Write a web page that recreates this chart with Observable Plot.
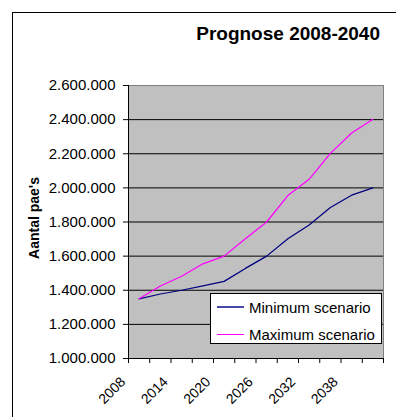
<!DOCTYPE html>
<html>
<head>
<meta charset="utf-8">
<script src="https://cdn.jsdelivr.net/npm/d3@7"></script>
<script src="https://cdn.jsdelivr.net/npm/@observablehq/plot@0.6"></script>
<style>
  html, body { margin: 0; padding: 0; background: white; }
  body { width: 396px; height: 417px; overflow: hidden; position: relative; font-family: "Liberation Sans", Arial, sans-serif; color: black; }
  #border { position: absolute; left: 12px; top: 12px; width: 500px; height: 500px; border-left: 1px solid black; border-top: 1px solid black; }
  #chart { position: absolute; left: 0; top: 0; }
  #title { position: absolute; right: 16px; top: 24px; font-size: 19px; line-height: 19px; font-weight: bold; white-space: nowrap; }
  #ylabel { position: absolute; left: 34px; top: 218px; font-size: 14px; font-weight: bold; white-space: nowrap; transform: translate(-50%, -50%) rotate(-90deg); line-height: 14px; }
  #legend { position: absolute; left: 210px; top: 293px; width: 170px; height: 49px; background: white; border: 1px solid black; }
  .row { position: absolute; left: 0; height: 18px; display: flex; align-items: center; font-size: 15px; white-space: nowrap; }
  .swatch { width: 27px; height: 0; margin-left: 6px; margin-right: 5px; }
</style>
</head>
<body>
<div id="border"></div>
<div id="chart"></div>
<div id="title">Prognose 2008-2040</div>
<div id="ylabel">Aantal pae's</div>
<div id="legend"></div>
<script>
// Data
const years = [2008, 2011, 2014, 2017, 2020, 2023, 2026, 2029, 2032, 2035, 2038, 2041];
const minValues = [1350000, 1378000, 1400000, 1425000, 1452000, 1528000, 1600000, 1702000, 1782000, 1885000, 1957000, 2000000];
const maxValues = [1350000, 1425000, 1482000, 1555000, 1600000, 1702000, 1800000, 1955000, 2050000, 2202000, 2322000, 2402000];
const seriesNames = ["Minimum scenario", "Maximum scenario"];
const seriesColors = ["#000080", "#ff00ff"];
const legendColors = ["#4848a8", "#ff00ff"];
const xLabels = ["2008", "2014", "2020", "2026", "2032", "2038"];
const yTicks = [1000000, 1200000, 1400000, 1600000, 1800000, 2000000, 2200000, 2400000, 2600000];
const yearStep = 3;

const xDomain = [years[0] - yearStep / 2, years[years.length - 1] + yearStep / 2];
const yDomain = [yTicks[0], yTicks[yTicks.length - 1]];
const boundaries = [...years.map(y => y - yearStep / 2), xDomain[1]];
const gridValues = yTicks.slice(1, -1);

const fmt = d3.formatLocale({decimal: ",", thousands: ".", grouping: [3], currency: ["", ""]}).format(",d");

const minData = years.map((y, i) => ({year: y, value: minValues[i]}));
const maxData = years.map((y, i) => ({year: y, value: maxValues[i]}));
const labelData = xLabels.map(s => ({year: +s, text: s}));

const chart = Plot.plot({
  width: 396,
  height: 417,
  marginLeft: 128,
  marginRight: 13,
  marginTop: 85,
  marginBottom: 59,
  style: {background: "transparent", fontFamily: "'Liberation Sans', Arial, sans-serif", fontSize: "15px", color: "black"},
  x: {type: "linear", domain: xDomain, axis: null},
  y: {type: "linear", domain: yDomain, axis: null},
  marks: [
    Plot.frame({fill: "#c0c0c0", stroke: "#808080"}),
    Plot.ruleY(gridValues, {stroke: "black", strokeWidth: 1}),
    Plot.ruleY([yDomain[0]], {stroke: "black", strokeWidth: 1}),
    Plot.ruleX([xDomain[0]], {stroke: "black", strokeWidth: 1}),
    Plot.axisY({ticks: yTicks, tickFormat: fmt, tickSize: 5, tickPadding: 8, fontSize: 15, label: null}),
    Plot.axisX({ticks: boundaries, tickFormat: () => "", tickSize: 5, label: null}),
    Plot.text(labelData, {x: "year", text: "text", frameAnchor: "bottom", rotate: -45, textAnchor: "end", lineAnchor: "middle", dx: -16, dy: 21, fontSize: 14}),
    Plot.line(minData, {x: "year", y: "value", stroke: seriesColors[0], strokeWidth: 1.25}),
    Plot.line(maxData, {x: "year", y: "value", stroke: seriesColors[1], strokeWidth: 1.25})
  ]
});
document.getElementById("chart").appendChild(chart);

const legend = document.getElementById("legend");
seriesNames.forEach((name, i) => {
  const row = document.createElement("div");
  row.className = "row";
  row.style.top = (i === 0 ? 4 : 31) + "px";
  const sw = document.createElement("div");
  sw.className = "swatch";
  sw.style.borderTop = (i === 0 ? "2px" : "1.5px") + " solid " + legendColors[i];
  const t = document.createElement("span");
  t.textContent = name;
  row.appendChild(sw);
  row.appendChild(t);
  legend.appendChild(row);
});
</script>
</body>
</html>
